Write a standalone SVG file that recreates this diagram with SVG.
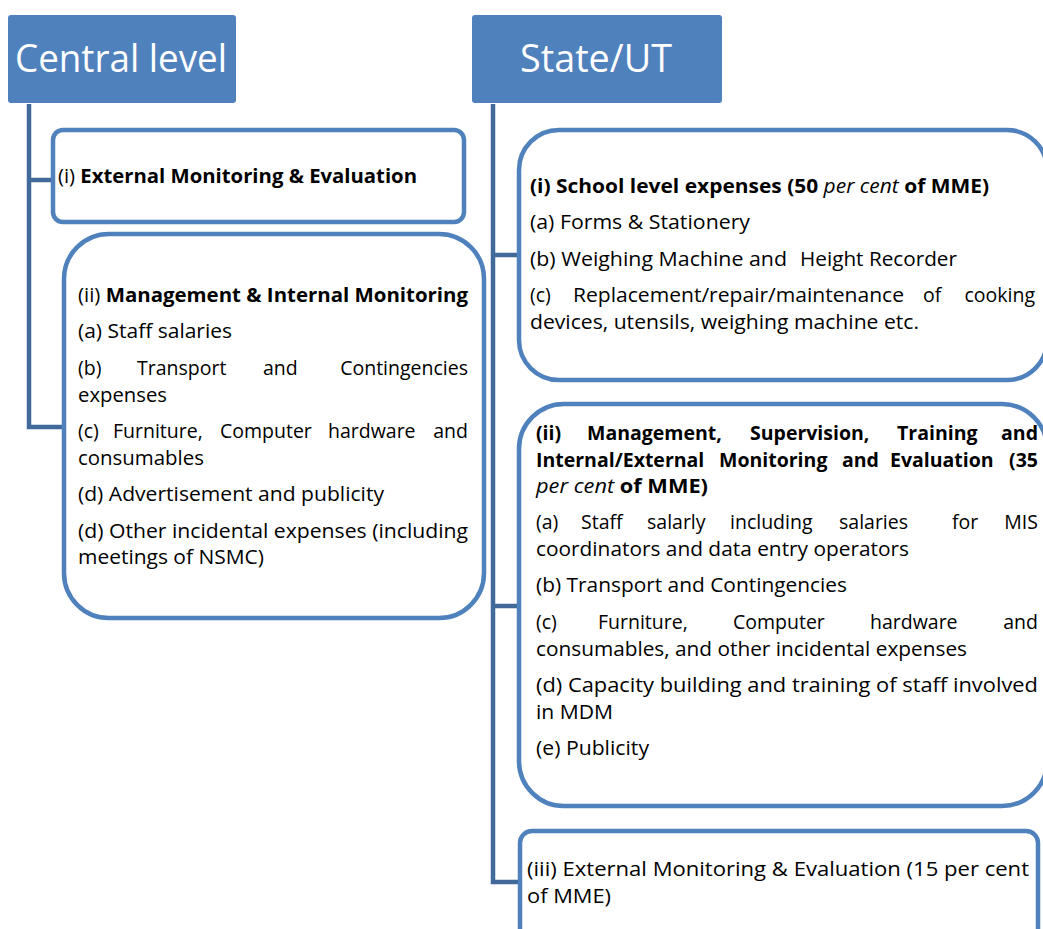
<svg xmlns="http://www.w3.org/2000/svg" width="1043" height="929" viewBox="0 0 1043 929">
<style>
.hdr{fill:#4F81BD}
.ht{font-family:"Open Sans","Noto Sans",sans-serif;font-size:39px;fill:#FFFFFF}
.box{fill:#FFFFFF;stroke:#4F81BD;stroke-width:4.5}
.con{fill:none;stroke:#41699A;stroke-width:4.5;stroke-linejoin:miter}
.t{font-family:"Open Sans","Noto Sans",sans-serif;font-size:19.5px;fill:#000000}
.e{text-anchor:end}
.b{font-weight:700}
.i{font-style:italic;font-weight:400}
</style>
<rect width="1043" height="929" fill="#FFFFFF"/>
<g id="connectors">
<path class="con" d="M29,104 V427 H64 M29,180 H53"/>
<path class="con" d="M493,104 V882 H520 M493,255 H518 M493,606 H518"/>
</g>
<g id="central-level">
<rect class="hdr" x="8" y="15" width="228" height="88" rx="3"/>
<text class="ht" x="15" y="72" textLength="212" lengthAdjust="spacingAndGlyphs">Central level</text>
</g>
<g id="state-ut">
<rect class="hdr" x="472" y="15" width="250" height="88" rx="3"/>
<text class="ht" x="520" y="72" textLength="152" lengthAdjust="spacingAndGlyphs">State/UT</text>
</g>
<g id="central-i">
<rect class="box" x="53" y="130" width="411" height="92" rx="10"/>
<text class="t" x="58" y="183" textLength="359" lengthAdjust="spacingAndGlyphs">(i) <tspan class="b">External Monitoring &amp; Evaluation</tspan></text>
</g>
<g id="central-ii">
<rect class="box" x="64" y="234" width="420" height="384" rx="45"/>
<text class="t" x="78" y="302" textLength="390" lengthAdjust="spacingAndGlyphs">(ii) <tspan class="b">Management &amp; Internal Monitoring</tspan></text>
<text class="t" x="78" y="338" textLength="154" lengthAdjust="spacingAndGlyphs">(a) Staff salaries</text>
<text class="t" y="375"><tspan x="78">(b)</tspan><tspan x="137">Transport</tspan><tspan x="263">and</tspan></text>
<text class="t e" x="468" y="375">Contingencies</text>
<text class="t" x="78" y="402" textLength="89" lengthAdjust="spacingAndGlyphs">expenses</text>
<text class="t" y="438"><tspan x="78">(c)</tspan><tspan x="113">Furniture,</tspan><tspan x="220">Computer</tspan><tspan x="328">hardware</tspan></text>
<text class="t e" x="468" y="438">and</text>
<text class="t" x="78" y="465" textLength="126" lengthAdjust="spacingAndGlyphs">consumables</text>
<text class="t" x="78" y="501" textLength="306" lengthAdjust="spacingAndGlyphs">(d) Advertisement and publicity</text>
<text class="t" x="78" y="538" textLength="390" lengthAdjust="spacingAndGlyphs">(d) Other incidental expenses (including</text>
<text class="t" x="78" y="564" textLength="186" lengthAdjust="spacingAndGlyphs">meetings of NSMC)</text>
</g>
<g id="state-i">
<rect class="box" x="519" y="130" width="528" height="250" rx="40"/>
<text class="t b" x="530" y="193" textLength="459" lengthAdjust="spacingAndGlyphs">(i) School level expenses (50 <tspan class="i">per cent</tspan> of MME)</text>
<text class="t" x="530" y="229" textLength="220" lengthAdjust="spacingAndGlyphs">(a) Forms &amp; Stationery</text>
<text class="t" x="530" y="266" textLength="257" lengthAdjust="spacingAndGlyphs">(b) Weighing Machine and</text>
<text class="t" x="800" y="266" textLength="157" lengthAdjust="spacingAndGlyphs">Height Recorder</text>
<text class="t" y="302"><tspan x="530">(c)</tspan><tspan x="923">of</tspan></text>
<text class="t" x="573" y="302" textLength="331" lengthAdjust="spacingAndGlyphs">Replacement/repair/maintenance</text>
<text class="t e" x="1035" y="302">cooking</text>
<text class="t" x="530" y="329" textLength="389" lengthAdjust="spacingAndGlyphs">devices, utensils, weighing machine etc.</text>
</g>
<g id="state-ii">
<rect class="box" x="519" y="404" width="528" height="402" rx="45"/>
<text class="t b" y="440"><tspan x="536">(ii)</tspan><tspan x="587">Management,</tspan><tspan x="750">Supervision,</tspan><tspan x="897">Training</tspan></text>
<text class="t b e" x="1038" y="440">and</text>
<text class="t b" y="467"><tspan x="536">Internal/External</tspan><tspan x="719">Monitoring</tspan><tspan x="842">and</tspan><tspan x="890">Evaluation</tspan></text>
<text class="t b e" x="1038" y="467">(35</text>
<text class="t b" x="536" y="493" textLength="172" lengthAdjust="spacingAndGlyphs"><tspan class="i">per cent</tspan> of MME)</text>
<text class="t" y="529"><tspan x="536">(a)</tspan><tspan x="581">Staff</tspan><tspan x="647">salarly</tspan><tspan x="730">including</tspan><tspan x="839">salaries</tspan><tspan x="952">for</tspan></text>
<text class="t e" x="1038" y="529">MIS</text>
<text class="t" x="536" y="556" textLength="373" lengthAdjust="spacingAndGlyphs">coordinators and data entry operators</text>
<text class="t" x="536" y="592" textLength="311" lengthAdjust="spacingAndGlyphs">(b) Transport and Contingencies</text>
<text class="t" y="629"><tspan x="536">(c)</tspan><tspan x="598">Furniture,</tspan><tspan x="733">Computer</tspan><tspan x="870">hardware</tspan></text>
<text class="t e" x="1038" y="629">and</text>
<text class="t" x="536" y="656" textLength="431" lengthAdjust="spacingAndGlyphs">consumables, and other incidental expenses</text>
<text class="t" x="536" y="692" textLength="502" lengthAdjust="spacingAndGlyphs">(d) Capacity building and training of staff involved</text>
<text class="t" x="536" y="719" textLength="77" lengthAdjust="spacingAndGlyphs">in MDM</text>
<text class="t" x="536" y="755" textLength="113" lengthAdjust="spacingAndGlyphs">(e) Publicity</text>
</g>
<g id="state-iii">
<rect class="box" x="520" y="831" width="518" height="130" rx="12"/>
<text class="t" x="527" y="876" textLength="502" lengthAdjust="spacingAndGlyphs">(iii) External Monitoring &amp; Evaluation (15 per cent</text>
<text class="t" x="527" y="903" textLength="84" lengthAdjust="spacingAndGlyphs">of MME)</text>
</g>
</svg>
